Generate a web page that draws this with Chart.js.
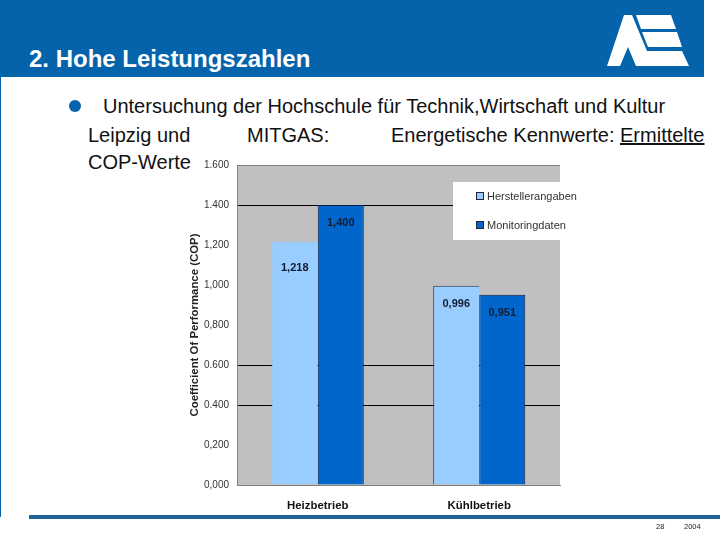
<!DOCTYPE html>
<html>
<head>
<meta charset="utf-8">
<title>Hohe Leistungszahlen</title>
<script src="https://cdn.jsdelivr.net/npm/chart.js@4"></script>
<style>
  html, body { margin: 0; padding: 0; background: #fff; }
  body { width: 720px; height: 540px; position: relative; overflow: hidden; font-family: "Liberation Sans", Arial, sans-serif; }
  .kopf { position: absolute; left: 0; top: 0; width: 704px; height: 77px; background: #0563ab; }
  .randlinie { position: absolute; left: 0; top: 77px; width: 1px; height: 440px; background: #0563ab; }
  .titel { position: absolute; left: 29px; top: 46px; font-size: 24px; font-weight: bold; line-height: 26px; color: #fff; }
  .punkt { position: absolute; left: 69px; top: 100px; width: 12px; height: 12px; border-radius: 50%; background: #0563ab; }
  .zeile { position: absolute; font-size: 20px; line-height: 24px; color: #111; white-space: pre; }
  .logo { position: absolute; left: 0; top: 0; }
  .fuss { position: absolute; left: 29px; top: 515px; width: 691px; height: 4px; background: #1f6496; }
  .klein { position: absolute; top: 522px; font-size: 7.5px; color: #222; }
  canvas { position: absolute; left: 0; top: 0; }
  .legende { position: absolute; left: 453px; top: 182px; width: 107px; height: 58px; background: #fff; }
  .eintrag { position: absolute; left: 476px; font-size: 11px; line-height: 12px; color: #333; white-space: pre; }
  .eintrag i { display: inline-block; width: 6px; height: 6px; margin-right: 3px; border: 1px solid #223; }
</style>
</head>
<body>
<div class="kopf"></div>
<div class="randlinie"></div>
<div class="titel">2. Hohe Leistungszahlen</div>
<svg class="logo" width="720" height="80">
  <polygon points="607,66 624,15 632,15 647,51 682,51 689,66 636,66 628,47 620,66" fill="#fff"/>
  <polygon points="636,15 671,15 676,29 641,29" fill="#fff"/>
  <polygon points="642,32 677,32 682,47 648,47" fill="#fff"/>
</svg>
<div class="punkt"></div>
<div class="zeile" style="left:103px;top:94px">Untersuchung der Hochschule für Technik,Wirtschaft und Kultur</div>
<div class="zeile" style="left:88px;top:123px">Leipzig und</div>
<div class="zeile" style="left:247px;top:123px">MITGAS:</div>
<div class="zeile" style="left:391px;top:123px">Energetische Kennwerte: <u>Ermittelte</u></div>
<div class="zeile" style="left:88px;top:150px">COP-Werte</div>

<canvas id="copChart" width="720" height="540"></canvas>

<div class="legende"></div>
<div class="eintrag" style="top:190px"><i style="background:#99ccff"></i>Herstellerangaben</div>
<div class="eintrag" style="top:219px"><i style="background:#0066cc"></i>Monitoringdaten</div>

<div class="fuss"></div>
<div class="klein" style="left:656px">28</div>
<div class="klein" style="left:684px">2004</div>

<script>
var kategorien = ['Heizbetrieb', 'Kühlbetrieb'];
var herstellerangaben = [1.218, 0.996];
var monitoringdaten = [1.400, 0.951];
var tickLabels = ['0,000', '0,200', '0.400', '0.600', '0,800', '1,000', '1,200', '1.400', '1.600'];
var sichtbareGitter = ['0.400', '0.600', '1.400'];

function wertText(wert) {
  return wert.toFixed(3).replace('.', ',');
}

// grauer Hintergrund der Zeichenflaeche
var flaeche = {
  id: 'flaeche',
  beforeDraw: function (chart) {
    var a = chart.chartArea;
    chart.ctx.save();
    chart.ctx.fillStyle = '#c0c0c0';
    chart.ctx.fillRect(a.left, a.top, a.right - a.left, a.bottom - a.top);
    chart.ctx.restore();
  }
};

// Werte stehen im Balken, nicht darueber
var wertLabels = {
  id: 'wertLabels',
  afterDatasetsDraw: function (chart) {
    var ctx = chart.ctx;
    ctx.save();
    ctx.font = 'bold 11px "Liberation Sans", Arial, sans-serif';
    ctx.fillStyle = '#111c33';
    ctx.textAlign = 'center';
    ctx.textBaseline = 'middle';
    chart.data.datasets.forEach(function (ds, i) {
      chart.getDatasetMeta(i).data.forEach(function (bar, j) {
        var abstand = (i === 0 && j === 0) ? 27 : 18;
        ctx.fillText(wertText(ds.data[j]), bar.x, bar.y + abstand);
      });
    });
    ctx.restore();
  }
};

var grafik = new Chart(document.getElementById('copChart'), {
  type: 'bar',
  data: {
    labels: kategorien,
    datasets: [{
      label: 'Herstellerangaben',
      data: herstellerangaben,
      backgroundColor: '#99ccff',
      borderColor: ['#99ccff', '#26324d'],
      borderWidth: { top: 1, right: 0, bottom: 1, left: 1 }
    }, {
      label: 'Monitoringdaten',
      data: monitoringdaten,
      backgroundColor: '#0066cc',
      borderColor: '#0b1f45',
      borderWidth: 1
    }]
  },
  plugins: [flaeche, wertLabels],
  options: {
    responsive: false,
    animation: false,
    layout: { padding: { left: 188, top: 165, right: 160, bottom: 0 } },
    datasets: { bar: { categoryPercentage: 0.57, barPercentage: 1 } },
    plugins: {
      legend: { display: false },
      tooltip: { enabled: false },
      title: { display: false }
    },
    scales: {
      x: {
        afterFit: function (scale) { scale.height = 55; },
        grid: { display: false },
        border: { color: '#808080', width: 1 },
        ticks: {
          color: '#111',
          padding: 6,
          font: { family: '"Liberation Sans", Arial, sans-serif', size: 11.4, weight: 'bold' }
        }
      },
      y: {
        min: 0,
        max: 1.6,
        afterFit: function (scale) { scale.width = 49; },
        afterBuildTicks: function (scale) {
          scale.ticks = tickLabels.map(function (t, i) { return { value: i * 0.2 }; });
        },
        title: {
          display: true,
          text: 'Coefficient Of Performance (COP)',
          color: '#222',
          padding: { top: 0, bottom: 0 },
          font: { family: '"Liberation Sans", Arial, sans-serif', size: 11.4, weight: 'bold' }
        },
        grid: {
          drawTicks: false,
          color: function (c) {
            var t = tickLabels[Math.round(c.tick.value / 0.2)];
            if (t === '1.600') return '#808080';
            return sichtbareGitter.indexOf(t) >= 0 ? '#000' : 'rgba(0,0,0,0)';
          }
        },
        border: { color: '#808080', width: 1 },
        ticks: {
          color: '#333',
          padding: 8,
          font: { family: '"Liberation Sans", Arial, sans-serif', size: 10 },
          callback: function (v, i) { return tickLabels[i]; }
        }
      }
    }
  }
});
</script>
</body>
</html>
